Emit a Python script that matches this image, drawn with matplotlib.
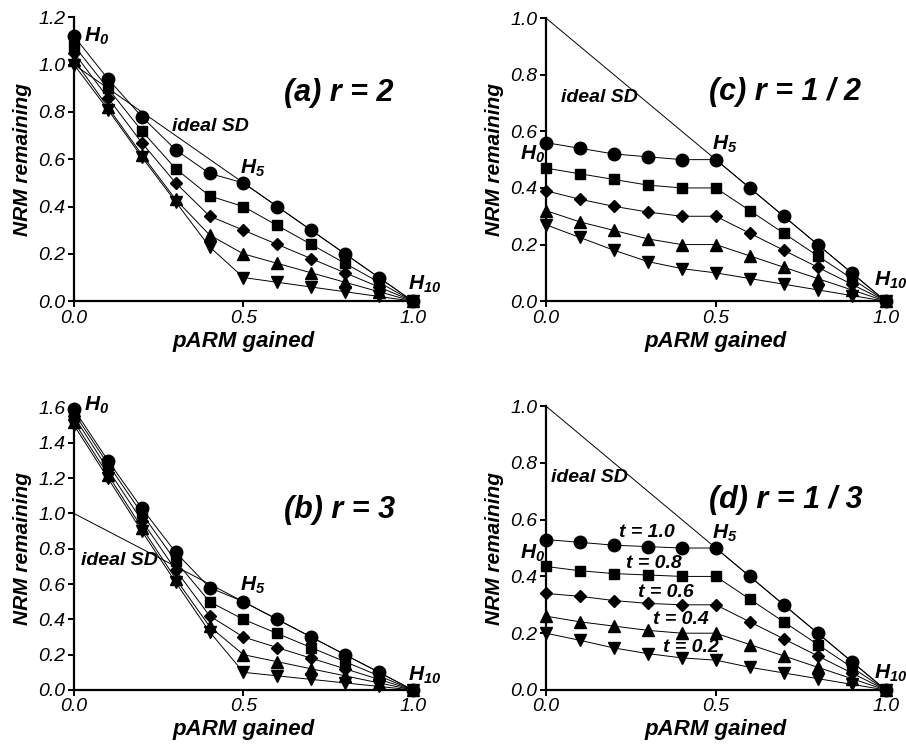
import matplotlib.pyplot as plt
from matplotlib.ticker import FormatStrFormatter

plt.rcParams['font.family'] = ['Liberation Sans', 'DejaVu Sans']
plt.rcParams['mathtext.fontset'] = 'custom'
plt.rcParams['mathtext.it'] = 'Liberation Sans:bold:italic'
plt.rcParams['mathtext.rm'] = 'Liberation Sans:bold:italic'

# pARM gained steps (H0 .. H10)
x = [0.0, 0.1, 0.2, 0.3, 0.4, 0.5, 0.6, 0.7, 0.8, 0.9, 1.0]
ideal_x = [0.0, 1.0]
ideal_y = [1.0, 0.0]
t_values = ['1.0', '0.8', '0.6', '0.4', '0.2']

# (a) r = 2
a_t10 = [1.12, 0.94, 0.78, 0.64, 0.54, 0.50, 0.40, 0.30, 0.20, 0.10, 0.0]
a_t08 = [1.08, 0.90, 0.72, 0.56, 0.445, 0.40, 0.32, 0.24, 0.16, 0.08, 0.0]
a_t06 = [1.05, 0.86, 0.67, 0.50, 0.36, 0.30, 0.24, 0.18, 0.12, 0.06, 0.0]
a_t04 = [1.02, 0.82, 0.62, 0.43, 0.28, 0.20, 0.16, 0.12, 0.08, 0.04, 0.0]
a_t02 = [1.00, 0.81, 0.61, 0.42, 0.23, 0.10, 0.08, 0.06, 0.04, 0.02, 0.0]

# (b) r = 3
b_t10 = [1.59, 1.30, 1.03, 0.78, 0.58, 0.50, 0.40, 0.30, 0.20, 0.10, 0.0]
b_t08 = [1.57, 1.28, 1.00, 0.73, 0.50, 0.40, 0.32, 0.24, 0.16, 0.08, 0.0]
b_t06 = [1.55, 1.25, 0.96, 0.68, 0.42, 0.30, 0.24, 0.18, 0.12, 0.06, 0.0]
b_t04 = [1.52, 1.22, 0.92, 0.63, 0.36, 0.20, 0.16, 0.12, 0.08, 0.04, 0.0]
b_t02 = [1.50, 1.20, 0.90, 0.61, 0.33, 0.10, 0.08, 0.06, 0.04, 0.02, 0.0]

# (c) r = 1/2
c_t10 = [0.56, 0.54, 0.52, 0.51, 0.50, 0.50, 0.40, 0.30, 0.20, 0.10, 0.0]
c_t08 = [0.47, 0.45, 0.43, 0.41, 0.40, 0.40, 0.32, 0.24, 0.16, 0.08, 0.0]
c_t06 = [0.39, 0.36, 0.335, 0.315, 0.30, 0.30, 0.24, 0.18, 0.12, 0.06, 0.0]
c_t04 = [0.32, 0.28, 0.25, 0.22, 0.20, 0.20, 0.16, 0.12, 0.08, 0.04, 0.0]
c_t02 = [0.27, 0.225, 0.18, 0.14, 0.115, 0.10, 0.08, 0.06, 0.04, 0.02, 0.0]

# (d) r = 1/3
d_t10 = [0.53, 0.52, 0.51, 0.505, 0.50, 0.50, 0.40, 0.30, 0.20, 0.10, 0.0]
d_t08 = [0.435, 0.42, 0.41, 0.405, 0.40, 0.40, 0.32, 0.24, 0.16, 0.08, 0.0]
d_t06 = [0.34, 0.33, 0.315, 0.305, 0.30, 0.30, 0.24, 0.18, 0.12, 0.06, 0.0]
d_t04 = [0.26, 0.24, 0.225, 0.21, 0.20, 0.20, 0.16, 0.12, 0.08, 0.04, 0.0]
d_t02 = [0.20, 0.175, 0.148, 0.128, 0.113, 0.105, 0.08, 0.06, 0.04, 0.02, 0.0]

markers = [('o', 9), ('s', 7.5), ('D', 6.5), ('^', 9), ('v', 9)]


def draw_panel(ax, series, ymax, title, title_xy, sd_xy, h0_xy, h5_xy, h10_xy):
    ax.plot(ideal_x, ideal_y, color='black', linewidth=0.7, zorder=1)
    for ys, (m, ms) in zip(series, markers):
        ax.plot(x, ys, color='black', linewidth=0.7, marker=m, markersize=ms,
                markerfacecolor='black', markeredgecolor='black', clip_on=False, zorder=3)
    ax.set_xlim(0, 1.0)
    ax.set_ylim(0, ymax)
    ax.set_xticks([0.0, 0.5, 1.0])
    ax.set_yticks([round(0.2 * i, 1) for i in range(int(round(ymax / 0.2)) + 1)])
    ax.xaxis.set_major_formatter(FormatStrFormatter('%.1f'))
    ax.yaxis.set_major_formatter(FormatStrFormatter('%.1f'))
    for s in ['top', 'right']:
        ax.spines[s].set_visible(False)
    for s in ['left', 'bottom']:
        ax.spines[s].set_linewidth(1.6)
    ax.tick_params(direction='out', length=4, width=1.4, labelsize=14, pad=2)
    for lbl in ax.get_xticklabels() + ax.get_yticklabels():
        lbl.set_fontstyle('italic')
    ax.set_xlabel('pARM gained', fontsize=16, fontweight='bold', fontstyle='italic', labelpad=3)
    ax.set_ylabel('NRM remaining', fontsize=15, fontweight='bold', fontstyle='italic', labelpad=5)
    ax.text(title_xy[0], title_xy[1], title, fontsize=22, fontweight='bold',
            fontstyle='italic', va='center', ha='left')
    ax.text(sd_xy[0], sd_xy[1], 'ideal SD', fontsize=14, fontweight='bold',
            fontstyle='italic', va='center', ha='left')
    ax.text(h0_xy[0], h0_xy[1], '$H_{0}$', fontsize=15, va='center', ha='left')
    ax.text(h5_xy[0], h5_xy[1], '$H_{5}$', fontsize=15, va='center', ha='left')
    ax.text(h10_xy[0], h10_xy[1], '$H_{10}$', fontsize=15, va='center', ha='left',
            clip_on=False)


fig = plt.figure(figsize=(9.06, 7.53), dpi=100)
ax_a = fig.add_axes([0.0817, 0.600, 0.374, 0.377])
ax_c = fig.add_axes([0.6026, 0.600, 0.375, 0.376])
ax_b = fig.add_axes([0.0817, 0.0837, 0.374, 0.375])
ax_d = fig.add_axes([0.6026, 0.0837, 0.375, 0.377])

draw_panel(ax_a, [a_t10, a_t08, a_t06, a_t04, a_t02], 1.2, '(a) r = 2',
           (0.62, 0.88), (0.29, 0.74), (0.03, 1.12), (0.49, 0.56), (0.985, 0.07))
draw_panel(ax_b, [b_t10, b_t08, b_t06, b_t04, b_t02], 1.6, '(b) r = 3',
           (0.62, 1.02), (0.02, 0.735), (0.03, 1.61), (0.49, 0.59), (0.985, 0.085))
draw_panel(ax_c, [c_t10, c_t08, c_t06, c_t04, c_t02], 1.0, '(c) r = 1 / 2',
           (0.48, 0.74), (0.045, 0.72), (-0.075, 0.52), (0.49, 0.555), (0.965, 0.075))
draw_panel(ax_d, [d_t10, d_t08, d_t06, d_t04, d_t02], 1.0, '(d) r = 1 / 3',
           (0.48, 0.67), (0.015, 0.75), (-0.075, 0.48), (0.49, 0.55), (0.965, 0.06))

# t labels in panel (d)
t_pos = [(0.215, 0.553), (0.235, 0.447), (0.27, 0.345), (0.315, 0.247), (0.345, 0.148)]
for tv, (tx, ty) in zip(t_values, t_pos):
    ax_d.text(tx, ty, 't = ' + tv, fontsize=14, fontweight='bold', fontstyle='italic',
              va='center', ha='left')

fig.savefig('out.png', dpi=100)
